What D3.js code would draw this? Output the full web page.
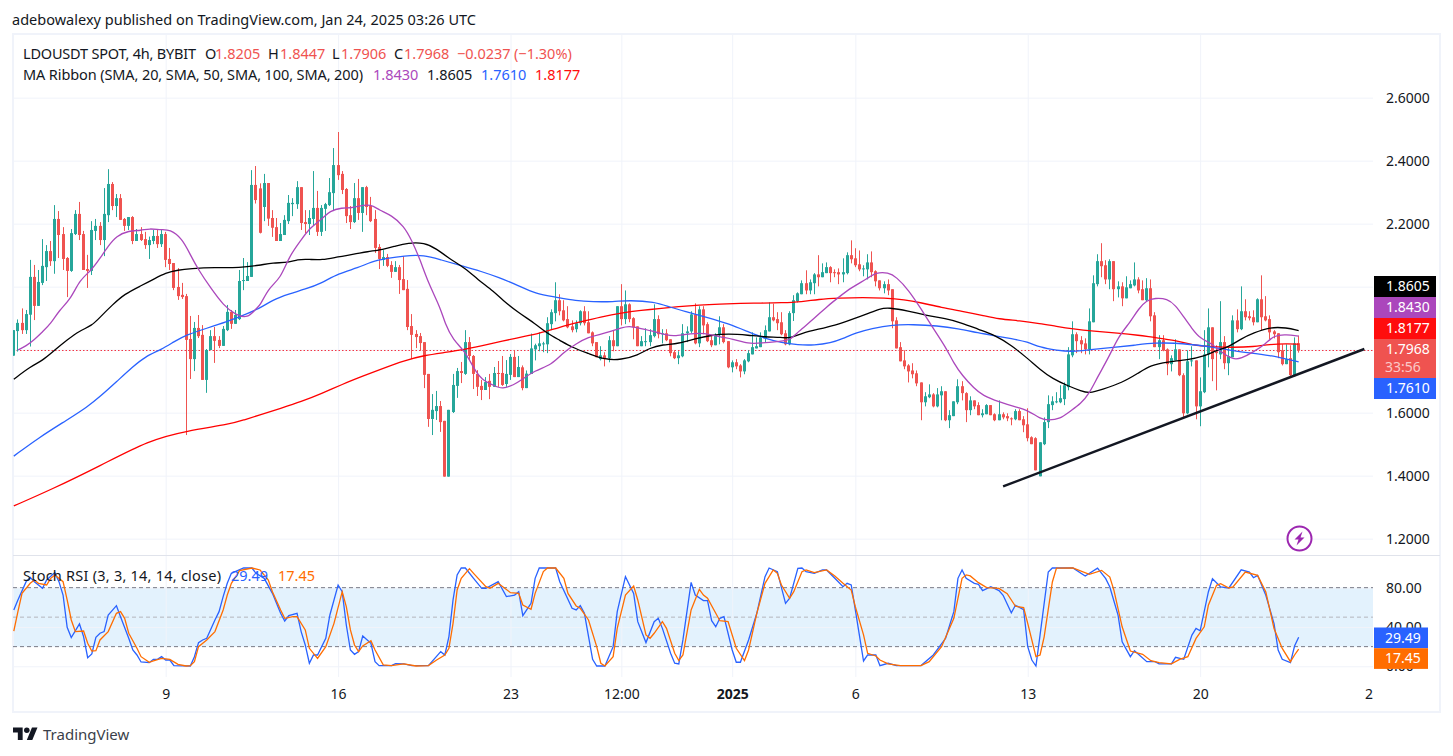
<!DOCTYPE html>
<html>
<head>
<meta charset="utf-8">
<title>LDOUSDT</title>
<script src="https://cdn.jsdelivr.net/npm/d3@7"></script>
<style>
  html, body { margin: 0; padding: 0; background: #fff; }
  svg { display: block; }
  text { font-family: "Noto Sans", "Open Sans", sans-serif; }
</style>
</head>
<body>
<div id="chart"></div>
<script>
// candles, 4h bars
const opens = [
  1.781,1.859,1.885,1.862,1.911,2.031,1.939,2.012,2.062,2.113,
  2.081,2.215,2.167,2.091,2.050,2.167,2.231,2.167,2.056,2.050,
  2.177,2.193,2.148,2.227,2.326,2.256,2.281,2.215,2.193,2.221,
  2.145,2.167,2.151,2.132,2.145,2.161,2.135,2.167,2.088,2.075,
  1.999,1.974,1.970,1.834,1.770,1.869,1.847,1.704,1.799,1.843,
  1.831,1.812,1.862,1.920,1.882,1.897,2.018,2.018,2.031,2.323,
  2.312,2.253,2.329,2.218,2.189,2.145,2.164,2.208,2.262,2.262,
  2.316,2.205,2.199,2.215,2.250,2.174,2.247,2.259,2.297,2.386,
  2.358,2.310,2.227,2.205,2.281,2.234,2.316,2.256,2.215,2.126,
  2.085,2.094,2.069,2.047,2.062,2.024,1.993,1.875,1.850,1.843,
  1.824,1.723,1.580,1.605,1.621,1.574,1.397,1.602,1.685,1.732,
  1.723,1.824,1.780,1.723,1.685,1.672,1.701,1.682,1.726,1.726,
  1.691,1.720,1.777,1.713,1.744,1.678,1.723,1.801,1.811,1.817,
  1.817,1.881,1.916,1.957,1.925,1.897,1.874,1.865,1.884,1.922,
  1.887,1.855,1.824,1.770,1.782,1.773,1.830,1.811,1.938,1.897,
  1.944,1.900,1.874,1.811,1.824,1.824,1.843,1.897,1.849,1.852,
  1.833,1.792,1.773,1.779,1.852,1.858,1.912,1.820,1.928,1.881,
  1.830,1.814,1.846,1.871,1.827,1.744,1.760,1.750,1.731,1.763,
  1.785,1.804,1.808,1.836,1.858,1.903,1.897,1.887,1.852,1.817,
  1.916,1.954,1.976,2.011,1.988,2.011,2.039,2.030,2.043,2.062,
  2.046,2.046,2.039,2.043,2.100,2.090,2.071,2.055,2.055,2.077,
  2.049,2.020,1.995,2.008,1.992,1.893,1.808,1.766,1.750,1.734,
  1.725,1.696,1.633,1.649,1.658,1.620,1.655,1.668,1.576,1.589,
  1.633,1.684,1.662,1.608,1.639,1.624,1.592,1.595,1.624,1.595,
  1.576,1.595,1.589,1.582,1.579,1.605,1.579,1.563,1.522,1.519,
  1.398,1.500,1.570,1.624,1.633,1.633,1.643,1.681,1.782,1.849,
  1.830,1.820,1.801,1.887,2.008,2.081,2.068,2.023,2.081,1.992,
  2.001,1.963,1.995,2.004,2.023,1.992,1.957,1.995,1.909,1.808,
  1.830,1.801,1.754,1.766,1.801,1.719,1.598,1.763,1.766,1.620,
  1.665,1.785,1.871,1.795,1.785,1.824,1.757,1.776,1.893,1.865,
  1.922,1.906,1.903,1.887,1.960,1.906,1.897,1.858,1.852,1.798,
  1.754,1.773,1.716,1.8205
];
const highs = [
  1.862,1.896,1.931,1.926,2.085,2.069,2.053,2.151,2.132,2.145,
  2.259,2.240,2.189,2.094,2.183,2.243,2.269,2.177,2.101,2.208,
  2.215,2.205,2.313,2.373,2.332,2.294,2.294,2.218,2.221,2.224,
  2.183,2.189,2.174,2.159,2.180,2.180,2.180,2.174,2.123,2.075,
  2.059,2.012,1.977,1.907,1.888,1.910,1.878,1.802,1.862,1.872,
  1.843,1.875,1.942,1.926,1.926,2.053,2.091,2.078,2.370,2.383,
  2.328,2.358,2.329,2.243,2.218,2.202,2.227,2.291,2.281,2.335,
  2.316,2.243,2.243,2.367,2.304,2.259,2.266,2.345,2.440,2.491,
  2.367,2.313,2.256,2.329,2.342,2.316,2.320,2.285,2.243,2.135,
  2.116,2.104,2.081,2.081,2.069,2.097,2.021,1.913,1.862,1.853,
  1.824,1.723,1.659,1.669,1.637,1.574,1.609,1.723,1.742,1.761,
  1.862,1.840,1.783,1.735,1.704,1.713,1.723,1.745,1.764,1.780,
  1.767,1.786,1.799,1.780,1.750,1.734,1.851,1.819,1.855,1.825,
  1.903,1.928,2.014,1.976,1.957,1.938,1.893,1.893,1.925,1.938,
  1.922,1.858,1.824,1.811,1.792,1.843,1.862,1.938,2.008,1.988,
  1.947,1.903,1.874,1.843,1.868,1.865,1.944,1.909,1.865,1.865,
  1.833,1.798,1.795,1.881,1.874,1.922,1.947,1.938,1.938,1.887,
  1.843,1.852,1.906,1.881,1.827,1.766,1.770,1.754,1.770,1.798,
  1.855,1.839,1.855,1.877,1.950,1.946,1.919,1.919,1.862,1.922,
  1.973,1.982,2.020,2.052,2.023,2.043,2.100,2.074,2.077,2.065,
  2.055,2.058,2.090,2.109,2.147,2.122,2.115,2.068,2.103,2.112,
  2.052,2.020,2.017,2.023,1.992,1.903,1.824,1.798,1.754,1.757,
  1.734,1.696,1.665,1.690,1.662,1.678,1.684,1.668,1.608,1.636,
  1.706,1.700,1.665,1.652,1.639,1.633,1.611,1.627,1.624,1.598,
  1.639,1.601,1.598,1.585,1.611,1.611,1.589,1.614,1.525,1.522,
  1.506,1.585,1.655,1.652,1.665,1.687,1.696,1.808,1.890,1.855,
  1.843,1.836,1.931,2.036,2.103,2.138,2.084,2.087,2.081,2.017,
  2.014,2.033,2.020,2.077,2.030,2.020,2.027,2.023,1.919,1.846,
  1.846,1.804,1.782,1.833,1.801,1.725,1.798,1.811,1.766,1.712,
  1.862,1.931,1.871,1.814,1.954,1.843,1.808,1.909,1.928,2.001,
  1.960,1.922,1.925,1.963,2.036,1.970,1.909,1.862,1.852,1.817,
  1.817,1.814,1.839,1.8447
];
const lows = [
  1.781,1.794,1.850,1.850,1.810,1.894,1.939,2.005,2.018,2.066,
  2.041,2.091,2.053,1.967,2.047,2.164,2.148,2.053,1.996,2.037,
  2.148,2.132,2.097,2.205,2.243,2.221,2.212,2.177,2.180,2.135,
  2.145,2.145,2.120,2.088,2.135,2.123,2.126,2.062,2.053,1.989,
  1.958,1.961,1.529,1.707,1.732,1.837,1.704,1.663,1.799,1.758,
  1.805,1.812,1.859,1.866,1.882,1.894,1.989,2.018,2.031,2.264,
  2.169,2.208,2.193,2.158,2.145,2.145,2.164,2.199,2.224,2.247,
  2.180,2.170,2.164,2.193,2.161,2.161,2.177,2.256,2.240,2.339,
  2.294,2.202,2.183,2.202,2.212,2.174,2.227,2.205,2.107,2.056,
  2.066,2.062,2.028,2.047,1.977,1.989,1.862,1.770,1.805,1.796,
  1.678,1.555,1.529,1.577,1.539,1.397,1.397,1.599,1.647,1.694,
  1.720,1.767,1.675,1.653,1.640,1.672,1.643,1.682,1.682,1.685,
  1.682,1.704,1.713,1.713,1.671,1.678,1.723,1.766,1.795,1.792,
  1.789,1.862,1.890,1.909,1.890,1.868,1.855,1.855,1.877,1.877,
  1.852,1.811,1.776,1.766,1.747,1.760,1.795,1.811,1.877,1.881,
  1.887,1.833,1.811,1.811,1.811,1.811,1.839,1.836,1.820,1.827,
  1.779,1.770,1.754,1.776,1.824,1.852,1.817,1.808,1.849,1.824,
  1.808,1.814,1.817,1.820,1.741,1.728,1.738,1.712,1.722,1.760,
  1.785,1.804,1.808,1.824,1.858,1.890,1.862,1.846,1.814,1.814,
  1.891,1.950,1.976,1.976,1.976,1.976,2.001,2.030,2.043,2.014,
  2.030,2.008,2.014,2.039,2.074,2.062,2.049,2.033,2.023,2.030,
  2.001,1.988,1.979,1.973,1.868,1.804,1.763,1.738,1.696,1.709,
  1.684,1.576,1.620,1.646,1.617,1.617,1.576,1.573,1.551,1.589,
  1.627,1.639,1.570,1.592,1.611,1.592,1.585,1.595,1.592,1.573,
  1.576,1.579,1.573,1.560,1.576,1.576,1.538,1.509,1.500,1.417,
  1.398,1.497,1.551,1.608,1.630,1.630,1.624,1.671,1.776,1.789,
  1.789,1.785,1.785,1.887,2.001,2.030,2.008,1.992,1.954,1.966,
  1.938,1.963,1.995,2.001,1.979,1.957,1.954,1.890,1.808,1.770,
  1.795,1.719,1.731,1.766,1.716,1.585,1.595,1.747,1.579,1.557,
  1.662,1.744,1.700,1.671,1.770,1.738,1.719,1.776,1.855,1.862,
  1.893,1.893,1.877,1.887,1.862,1.890,1.833,1.836,1.773,1.750,
  1.754,1.712,1.716,1.7906
];
const closes = [
  1.862,1.885,1.862,1.913,2.031,1.939,2.015,2.066,2.113,2.081,
  2.215,2.164,2.088,2.050,2.170,2.231,2.164,2.053,2.050,2.180,
  2.193,2.148,2.231,2.326,2.256,2.281,2.212,2.193,2.221,2.145,
  2.167,2.148,2.132,2.148,2.161,2.135,2.167,2.085,2.072,1.996,
  1.970,1.967,1.831,1.770,1.869,1.843,1.704,1.799,1.843,1.828,
  1.812,1.866,1.920,1.882,1.910,2.018,2.021,2.034,2.323,2.275,
  2.171,2.329,2.216,2.187,2.145,2.167,2.212,2.266,2.266,2.316,
  2.202,2.199,2.218,2.250,2.174,2.250,2.262,2.300,2.386,2.354,
  2.307,2.224,2.205,2.281,2.234,2.316,2.253,2.208,2.123,2.088,
  2.094,2.066,2.047,2.062,2.021,1.989,1.872,1.847,1.840,1.821,
  1.720,1.580,1.609,1.621,1.570,1.397,1.609,1.688,1.732,1.726,
  1.824,1.780,1.723,1.682,1.672,1.697,1.682,1.726,1.723,1.688,
  1.723,1.777,1.713,1.745,1.678,1.724,1.804,1.814,1.820,1.820,
  1.884,1.919,1.957,1.922,1.893,1.871,1.862,1.884,1.922,1.884,
  1.852,1.820,1.776,1.782,1.770,1.830,1.811,1.938,1.897,1.944,
  1.897,1.871,1.811,1.827,1.827,1.846,1.897,1.849,1.852,1.830,
  1.789,1.773,1.782,1.852,1.858,1.912,1.820,1.928,1.877,1.827,
  1.814,1.846,1.871,1.824,1.744,1.760,1.747,1.731,1.766,1.789,
  1.808,1.811,1.839,1.862,1.903,1.893,1.884,1.849,1.817,1.916,
  1.957,1.979,2.011,1.988,2.014,2.039,2.030,2.046,2.062,2.043,
  2.043,2.039,2.046,2.100,2.087,2.068,2.055,2.058,2.077,2.046,
  2.017,1.995,2.008,1.988,1.890,1.804,1.763,1.747,1.731,1.722,
  1.693,1.633,1.652,1.658,1.620,1.658,1.668,1.576,1.592,1.636,
  1.684,1.662,1.608,1.639,1.620,1.592,1.598,1.624,1.592,1.576,
  1.595,1.585,1.582,1.579,1.605,1.576,1.560,1.519,1.500,1.417,
  1.506,1.570,1.627,1.636,1.636,1.646,1.687,1.785,1.849,1.827,
  1.817,1.801,1.890,2.011,2.081,2.065,2.023,2.081,1.992,2.001,
  1.963,1.998,2.008,2.023,1.988,1.957,1.995,1.906,1.808,1.830,
  1.798,1.754,1.773,1.801,1.719,1.598,1.763,1.766,1.620,1.668,
  1.785,1.871,1.770,1.789,1.824,1.757,1.779,1.893,1.865,1.922,
  1.903,1.900,1.887,1.960,1.903,1.893,1.855,1.849,1.792,1.754,
  1.770,1.719,1.820,1.7968
];

// moving averages, read at these bar numbers
const sma20Bars = [1,3,5,7,9,11,14,16,19,21,23,25,28,31,33,36,38,41,43,45,48,51,54,57,59,60,62,65,67,70,72,75,77,80,82,84,87,89,92,95,97,99,101,104,105,107,110,112,114,117,119,122,123,127,131,134,137,140,143,145,148,150,152,156,159,161,165,168,172,175,179,182,187,189,191,195,198,201,204,208,210,213,215,218,221,224,227,229,231,234,236,240,244,247,250,252,255,257,260,262,264,267,269,272,274,276,278,281,283,285,287,289,292,294,297,299,302,305,307,310,313];
const sma20 = [1.799,1.812,1.831,1.857,1.882,1.924,1.963,2.021,2.053,2.090,2.129,2.161,2.178,2.178,2.185,2.180,2.182,2.153,2.101,2.053,1.995,1.942,1.910,1.899,1.931,1.939,1.995,2.026,2.095,2.148,2.185,2.214,2.241,2.251,2.249,2.256,2.262,2.243,2.227,2.193,2.146,2.085,2.011,1.931,1.884,1.831,1.794,1.741,1.704,1.686,1.674,1.690,1.698,1.735,1.751,1.793,1.819,1.840,1.849,1.856,1.870,1.875,1.869,1.858,1.846,1.843,1.851,1.854,1.840,1.835,1.818,1.821,1.827,1.830,1.856,1.899,1.936,1.967,1.997,2.026,2.045,2.045,2.031,1.989,1.930,1.867,1.809,1.756,1.719,1.676,1.655,1.634,1.618,1.608,1.581,1.575,1.581,1.602,1.629,1.661,1.713,1.782,1.840,1.888,1.930,1.957,1.964,1.962,1.941,1.904,1.867,1.835,1.819,1.793,1.768,1.772,1.793,1.819,1.846,1.848,1.843];

const sma50Bars = [0,4,7,10,13,16,19,21,24,27,31,34,37,40,43,49,55,60,63,67,69,72,75,79,83,86,90,93,96,100,103,106,110,113,117,119,123,127,130,133,136,140,144,148,152,155,158,162,166,170,174,179,183,187,189,192,196,200,204,208,211,213,218,222,227,231,235,239,243,247,250,253,257,260,262,265,270,274,277,281,286,290,293,296,299,302,306,310,313];
const sma50 = [1.706,1.746,1.765,1.799,1.831,1.860,1.876,1.903,1.942,1.977,2.003,2.023,2.044,2.053,2.057,2.061,2.060,2.068,2.076,2.076,2.087,2.087,2.084,2.095,2.103,2.111,2.118,2.129,2.139,2.140,2.120,2.090,2.058,2.023,1.984,1.958,1.917,1.883,1.851,1.830,1.807,1.788,1.768,1.768,1.782,1.806,1.816,1.819,1.835,1.846,1.851,1.846,1.840,1.840,1.835,1.853,1.865,1.877,1.895,1.914,1.930,1.934,1.923,1.909,1.899,1.885,1.864,1.846,1.814,1.772,1.737,1.708,1.684,1.669,1.661,1.673,1.695,1.726,1.751,1.761,1.768,1.779,1.798,1.809,1.835,1.853,1.872,1.870,1.8605];

const sma100Bars = [0,6,13,18,21,25,29,32,36,39,42,47,52,55,60,63,67,71,75,79,84,87,91,95,100,104,109,114,118,123,127,132,137,141,146,150,156,160,164,169,174,179,183,187,191,195,199,202,205,209,214,219,225,230,235,239,243,247,250,254,258,262,268,273,278,283,287,292,296,301,306,310,313];
const sma100 = [1.462,1.520,1.577,1.619,1.651,1.698,1.746,1.778,1.801,1.825,1.847,1.868,1.889,1.905,1.931,1.958,1.977,1.992,2.011,2.042,2.060,2.079,2.090,2.098,2.101,2.085,2.067,2.048,2.030,2.003,1.978,1.967,1.955,1.952,1.952,1.957,1.952,1.934,1.920,1.902,1.883,1.856,1.835,1.822,1.815,1.814,1.821,1.835,1.853,1.867,1.879,1.880,1.876,1.867,1.853,1.844,1.835,1.825,1.807,1.798,1.793,1.800,1.807,1.814,1.822,1.821,1.816,1.809,1.798,1.790,1.782,1.770,1.761];

const sma200Bars = [0,9,21,33,42,53,56,60,65,70,75,80,85,90,95,100,105,110,115,123,128,133,138,143,148,153,157,162,167,172,177,182,187,192,196,201,207,212,217,221,226,231,236,240,245,250,254,258,263,269,274,278,283,287,292,297,302,306,310,313];
const sma200 = [1.304,1.355,1.431,1.513,1.542,1.564,1.577,1.593,1.614,1.635,1.661,1.690,1.716,1.741,1.765,1.782,1.791,1.801,1.815,1.839,1.851,1.872,1.888,1.904,1.917,1.925,1.930,1.937,1.942,1.945,1.947,1.948,1.949,1.952,1.960,1.964,1.966,1.964,1.959,1.949,1.934,1.922,1.909,1.897,1.892,1.883,1.874,1.866,1.859,1.853,1.846,1.838,1.830,1.814,1.809,1.807,1.809,1.817,1.819,1.8177];

// stoch rsi, read at these bar numbers
const stochKBars = [0,1,3,4,5,7,8,10,11,12,13,14,16,17,18,19,20,21,22,23,25,26,28,29,30,31,33,34,35,36,37,38,39,43,44,45,46,47,49,50,51,52,53,56,58,59,61,63,65,66,67,69,70,71,72,73,74,76,77,79,80,81,82,83,84,85,87,88,89,92,93,95,97,101,104,105,106,107,108,109,110,112,114,115,118,120,122,123,124,126,127,128,132,133,136,137,138,139,141,142,144,146,147,149,151,152,154,156,157,158,160,161,162,163,165,166,168,169,170,171,172,173,175,176,177,179,181,183,184,186,188,189,191,192,193,195,197,198,200,202,203,204,205,207,208,210,211,213,215,221,224,227,229,230,231,232,234,235,236,238,240,241,243,244,246,247,248,249,250,252,253,258,261,264,266,267,269,270,272,273,276,278,279,282,283,285,287,288,289,291,292,294,296,299,301,302,303,305,307,308,309,311,312,313];
const stochK = [57.3,67.5,86.1,90.5,86.1,79.3,87.8,95.3,86.1,72.5,39.7,29.2,43.1,30.2,8.8,12.5,29.5,33.6,35.3,52.2,61.7,50.5,28.5,16.6,11.5,4.4,3.7,7.1,7.1,9.8,6.4,6.4,0.7,0.3,9.8,24.1,26.8,28.5,47.1,55.6,70.9,84.4,94.6,100,100,94.6,89.5,74.2,53.9,46.1,51.5,53.9,35.3,21.7,3.1,11.5,11.5,28.5,52.2,82.7,75.9,42,16.6,12.2,14.9,30.8,23.4,4.7,0.7,0.7,2.7,2.4,0.7,0.7,14.9,11.5,30.2,67.5,92.9,100,100,89.5,79.3,79.3,86.1,70.9,72.5,75.9,51.5,64.1,89.5,100,100,86.1,59,57.3,61.7,53.9,7.1,0.3,0.3,20,55.6,91.2,74.2,45.4,24.1,45.4,48.8,38.6,13.2,3.1,2.4,26.8,85.4,72.5,66.8,66.8,46.4,40.3,48.8,50.5,16.6,4.1,4.1,26.8,53.9,91.2,100,96.3,64.1,69.2,99.7,100,96.3,94.6,98,98,89.5,81,84.4,82.7,57.3,5.4,11.5,11.5,0.7,3.1,0.7,0.7,11.5,28.5,55.6,89.5,98,89.5,84.4,83.4,77,81,77,72.2,54.4,62.1,57.7,19.9,6.4,0.3,31.7,95.9,100,100,91.8,99.9,89.1,80.7,52,25,9.8,15.9,4.7,4.7,2.4,2.4,9.1,7.1,31.7,38.5,36.1,75.6,89.1,80.7,79.7,98.2,95.9,90.1,92.5,72.2,43.5,16.5,7.1,3.7,20.6,29.49];

const stochDBars = [0,1,2,4,5,6,8,9,10,12,13,14,15,17,18,19,20,21,23,25,26,27,28,30,31,33,34,36,38,40,42,43,44,45,47,49,51,52,53,55,58,60,62,63,65,66,68,69,71,72,74,76,78,80,81,82,83,84,85,87,88,90,92,95,98,101,103,105,106,107,108,109,111,112,115,116,118,121,123,124,126,127,129,130,132,134,135,137,138,140,142,143,144,146,147,149,151,152,154,155,156,158,159,161,162,163,165,167,168,169,172,174,176,178,179,181,183,185,186,187,189,190,192,193,195,198,200,202,204,205,207,208,210,211,213,216,221,223,226,229,231,232,233,235,237,240,242,244,246,247,249,250,251,253,254,258,262,265,267,268,270,272,275,277,279,282,284,286,288,290,291,293,294,296,297,300,303,305,307,309,311,312,313];
const stochD = [35.9,55.6,74.2,84.4,87.8,84.4,82.7,89.5,92.9,86.1,67.5,47.1,35.3,35.9,23.4,15.6,15.9,26.8,35.3,53.9,55.6,48.8,33.6,18.3,9.8,4.1,5.4,8.1,7.1,2,0.3,0.7,4.7,20,26.8,35.3,57.3,72.5,84.4,97.3,100,98,87.8,75.9,57.3,48.8,50.5,50.5,37,18.3,8.1,20,43.7,75.9,60.7,37,21.7,14.9,20.7,26.1,16.6,1.4,0.7,2.4,0.3,0.7,6.4,11.5,18.3,43.7,77.6,89.5,99.3,94.6,81,79.3,84.4,74.9,74.2,62.4,58,74.2,96.3,100,100,89.5,74.2,61.4,59,47.1,20,3.1,0.3,9.8,38.6,72.5,81.7,67.5,31.9,28.5,33.6,45.4,38.6,13.2,5.8,11.5,57.3,78.3,72.5,69.2,46.4,45.4,18.3,5.8,16.6,53.9,84.4,98,94.6,82.7,69.2,75.9,96.3,98,95.3,98,91.9,84.4,77.6,60.7,31.9,13.2,10.5,6.4,2.4,0.7,0.7,4.7,20,48.8,89.5,92.9,91.9,85.1,80,79.3,73.9,61.1,59.8,43.6,9.8,11.5,30,85.8,99.9,100,93.5,97.6,90.8,77.3,40.2,15.5,12.2,5.7,3.7,2.4,7.1,9.8,28.4,40.2,62.1,82.4,84.1,79.7,80.7,95.9,92.5,75.6,38.5,18.2,4.7,11.5,17.45];

// hand drawn trend line
const trendBars = [241, 329];
const trendPrices = [1.366, 1.802];

// axes
const priceTicks = [1.2, 1.4, 1.6, 1.8, 2.0, 2.2, 2.4, 2.6];
const stochTicks = [0, 40, 80];
const timeTickBars = [37, 79, 121, 148, 175, 205, 247, 289, 330];
const timeTickLabels = ['9', '16', '23', '12:00', '2025', '6', '13', '20', '2'];

const lastPrice = 1.7968;
const priceBoxes = [
  { text: '1.8605', color: '#000000' },
  { text: '1.8430', color: '#ab47bc' },
  { text: '1.8177', color: '#ff0d0d' },
  { text: '1.7968', color: '#ef5350', sub: '33:56' },
  { text: '1.7610', color: '#2962ff' }
];
const stochBoxes = [
  { text: '29.49', color: '#2962ff' },
  { text: '17.45', color: '#ff6d00' }
];

const width = 1453, height = 756;
const plot = { left: 13, right: 1373, top: 34, split: 555, bottom: 677 };
const upColor = '#26a69a', downColor = '#ef5350', gridColor = '#f0f3fa', textColor = '#131722';
const fontSize = 14.5;

const svg = d3.select('#chart').append('svg')
  .attr('width', width)
  .attr('height', height)
  .attr('viewBox', `0 0 ${width} ${height}`);

const x = d3.scaleLinear().domain([0, 330]).range([13.8, 13.8 + 330 * 4.105]);
const y = d3.scaleLinear().domain([1.2, 2.6]).range([538.67, 97.67]);
const yStoch = d3.scaleLinear().domain([0, 100]).range([666.3, 568]);

svg.append('defs').append('clipPath').attr('id', 'main-clip').append('rect')
  .attr('x', plot.left).attr('y', plot.top)
  .attr('width', plot.right - plot.left).attr('height', plot.split - plot.top);

// stoch band goes under the grid
svg.append('rect')
  .attr('x', plot.left).attr('width', plot.right - plot.left)
  .attr('y', yStoch(80)).attr('height', yStoch(20) - yStoch(80))
  .attr('fill', '#e3f2fd');

function styleAxis(g) {
  g.select('.domain').remove();
  g.selectAll('line').attr('stroke', gridColor);
  g.selectAll('text').attr('fill', textColor).attr('font-size', 14);
}

// time axis, also gives the vertical grid
const timeAxis = d3.axisBottom(x)
  .tickValues(timeTickBars)
  .tickSize(plot.top - plot.bottom)
  .tickPadding(13)
  .tickFormat((d, i) => timeTickLabels[i]);
svg.append('g').attr('class', 'time-axis')
  .attr('transform', `translate(0,${plot.bottom})`)
  .call(timeAxis)
  .call(styleAxis)
  .call(g => g.selectAll('text').attr('y', 12))
  .call(g => g.selectAll('.tick').filter(d => d === 330).select('line').remove())
  .call(g => g.selectAll('.tick').filter(d => d === 175).select('text').attr('font-weight', 700));

// price axis, also gives the horizontal grid
const priceAxis = d3.axisRight(y)
  .tickValues(priceTicks)
  .tickSize(plot.left - plot.right)
  .tickPadding(12)
  .tickFormat(d3.format('.4f'));
svg.append('g')
  .attr('transform', `translate(${plot.right},0)`)
  .call(priceAxis)
  .call(styleAxis)
  .call(g => g.selectAll('text').attr('x', 13));

const stochAxis = d3.axisRight(yStoch)
  .tickValues(stochTicks)
  .tickSize(plot.left - plot.right)
  .tickFormat(d3.format('.2f'));
svg.append('g')
  .attr('transform', `translate(${plot.right},0)`)
  .call(stochAxis)
  .call(styleAxis)
  .call(g => g.selectAll('text').attr('x', 13));

// pane frame
svg.append('rect')
  .attr('x', 13).attr('y', 34).attr('width', 1427).attr('height', 678)
  .attr('fill', 'none').attr('stroke', gridColor).attr('stroke-width', 2);
svg.append('line')
  .attr('x1', 13).attr('x2', 1440).attr('y1', plot.split + 0.5).attr('y2', plot.split + 0.5)
  .attr('stroke', '#e0e3eb');

// last price line
svg.append('line')
  .attr('x1', plot.left).attr('x2', plot.right)
  .attr('y1', Math.floor(y(lastPrice)) + 0.5).attr('y2', Math.floor(y(lastPrice)) + 0.5)
  .attr('stroke', '#f23645').attr('stroke-dasharray', '1.5 2');

// candles
const pixel = v => Math.round(v - 0.5) + 0.5;
const candles = svg.append('g').attr('clip-path', 'url(#main-clip)');
const bars = candles.selectAll('g').data(opens).join('g')
  .attr('fill', (d, i) => closes[i] >= d ? upColor : downColor);
bars.append('rect')
  .attr('x', (d, i) => pixel(x(i)) - 0.5)
  .attr('width', 1)
  .attr('y', (d, i) => y(highs[i]))
  .attr('height', (d, i) => y(lows[i]) - y(highs[i]));
bars.append('rect')
  .attr('x', (d, i) => pixel(x(i)) - 1.5)
  .attr('width', 3)
  .attr('y', (d, i) => y(Math.max(d, closes[i])))
  .attr('height', (d, i) => Math.max(1, Math.abs(y(d) - y(closes[i]))));

// moving averages
const maLine = d3.line()
  .x(d => x(d[0]))
  .y(d => y(d[1]))
  .curve(d3.curveBasis);
[
  [sma200Bars, sma200, '#ff0000'],
  [sma100Bars, sma100, '#2962ff'],
  [sma50Bars, sma50, '#000000'],
  [sma20Bars, sma20, '#ab47bc']
].forEach(([b, v, color]) => {
  candles.append('path')
    .attr('d', maLine(d3.zip(b, v)))
    .attr('fill', 'none')
    .attr('stroke', color)
    .attr('stroke-width', 1.3);
});

// trend line
candles.append('path')
  .attr('d', d3.line().x(d => x(d[0])).y(d => y(d[1]))(d3.zip(trendBars, trendPrices)))
  .attr('stroke', textColor)
  .attr('stroke-width', 2.5)
  .attr('fill', 'none');

// stoch dashed levels
[[80, '#787b86'], [50, '#b4b6bd'], [20, '#787b86']].forEach(([lvl, color]) => {
  svg.append('line')
    .attr('x1', plot.left).attr('x2', plot.right)
    .attr('y1', yStoch(lvl)).attr('y2', yStoch(lvl))
    .attr('stroke', color)
    .attr('stroke-dasharray', '4 3');
});

// stoch lines
const stochLine = d3.line().x(d => x(d[0])).y(d => yStoch(d[1]));
[
  [stochKBars, stochK, '#2962ff'],
  [stochDBars, stochD, '#ff6d00']
].forEach(([b, v, color]) => {
  svg.append('path')
    .attr('d', stochLine(d3.zip(b, v)))
    .attr('fill', 'none')
    .attr('stroke', color)
    .attr('stroke-width', 1.3);
});

// legend text, long strings get the width they have in the picture
function addText(parts, baseline) {
  parts.forEach(p => {
    const t = svg.append('text')
      .attr('x', p[0]).attr('y', baseline)
      .attr('font-size', fontSize)
      .attr('fill', p[2] || textColor)
      .text(p[1]);
    if (p[3]) t.attr('textLength', p[3]);
  });
}
addText([[12, 'adebowalexy published on TradingView.com, Jan 24, 2025 03:26 UTC', textColor, 464]], 25);
addText([
  [23, 'LDOUSDT SPOT, 4h, BYBIT', textColor, 173],
  [205, 'O'], [215, '1.8205', downColor],
  [268, 'H'], [280, '1.8447', downColor],
  [332, 'L'], [341, '1.7906', downColor],
  [394, 'C'], [404, '1.7968', downColor],
  [457, '\u22120.0237', downColor],
  [514, '(\u22121.30%)', downColor]
], 59);
addText([
  [23, 'MA Ribbon (SMA, 20, SMA, 50, SMA, 100, SMA, 200)', textColor, 340],
  [373, '1.8430', '#ab47bc'],
  [427, '1.8605'],
  [481, '1.7610', '#2962ff'],
  [535, '1.8177', '#ff0d0d']
], 80);
addText([
  [23, 'Stoch RSI (3, 3, 14, 14, close)', textColor, 198],
  [231, '29.49', '#2962ff'],
  [278, '17.45', '#ff6d00']
], 581);

// value boxes on the price axis
let boxTop = 276;
priceBoxes.forEach(b => {
  const h = b.sub ? 39 : 21;
  svg.append('rect')
    .attr('x', 1374).attr('y', boxTop).attr('width', 62).attr('height', h)
    .attr('fill', b.color);
  svg.append('text')
    .attr('x', 1386).attr('y', boxTop + 15).attr('font-size', 14).attr('fill', '#fff')
    .text(b.text);
  if (b.sub) {
    svg.append('text')
      .attr('x', 1385).attr('y', boxTop + 33).attr('font-size', 14).attr('fill', '#ffffff')
      .attr('fill-opacity', 0.7)
      .text(b.sub);
  }
  boxTop += h;
});
let stochTop = 627.5;
stochBoxes.forEach(b => {
  svg.append('rect')
    .attr('x', 1374).attr('y', stochTop).attr('width', 54).attr('height', 20.7)
    .attr('fill', b.color);
  svg.append('text')
    .attr('x', 1385).attr('y', stochTop + 15).attr('font-size', 14).attr('fill', '#fff')
    .text(b.text);
  stochTop += 20.7;
});

// lightning badge
const badge = svg.append('g').attr('transform', 'translate(1299.5,538.5)');
badge.append('circle').attr('r', 12).attr('fill', '#fff').attr('stroke', '#9c27b0').attr('stroke-width', 2);
badge.append('path')
  .attr('d', 'M3 -7 L-5 1 L-1 1 L-3 7 L5 -1 L1 -1 Z')
  .attr('fill', '#9c27b0');

// footer logo
const logo = svg.append('g').attr('transform', 'translate(13,724.8) scale(0.69)').attr('fill', textColor);
logo.append('path').attr('d', 'M14 22H7V11H0V4h14v18zM28 22h-8l7.5-18h8L28 22z');
logo.append('circle').attr('cx', 20).attr('cy', 8).attr('r', 4);
svg.append('text').attr('x', 43).attr('y', 740).attr('font-size', 15).attr('fill', '#3b3f4a')
  .text('TradingView');
</script>
</body>
</html>
